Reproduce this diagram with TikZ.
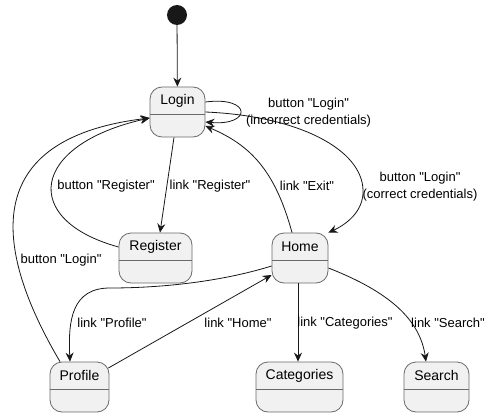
\documentclass[tikz,border=0pt]{standalone}
\usepackage{fontspec}
\setmainfont{Liberation Sans}[Ligatures=TeXOff]
\usetikzlibrary{arrows.meta}
\definecolor{statefill}{HTML}{F1F1F1}
\definecolor{stateline}{HTML}{6A6A6A}
\definecolor{edgecol}{HTML}{181818}
\tikzset{
  st/.style={draw=stateline, fill=statefill, rounded corners=12pt, line width=0.8pt,
    minimum height=50pt, inner sep=0pt,
    path picture={\draw[stateline,line width=0.8pt]
      ([yshift=-27pt]path picture bounding box.north west) --
      ([yshift=-27pt]path picture bounding box.north east);}},
  stname/.style={font=\fontsize{14}{16}\selectfont, inner sep=0pt},
  tr/.style={draw=edgecol, line width=0.8pt, -{Stealth[length=9pt,width=8pt,inset=3pt]}},
  lbl/.style={font=\fontsize{13}{17}\selectfont, align=center, inner sep=0pt, text=black},
}
\begin{document}
\begin{tikzpicture}[x=1pt,y=-1pt]
\useasboundingbox[fill=white] (0,0) rectangle (492,417);

% states
\node[circle, fill=edgecol, minimum size=20pt, inner sep=0pt] (start) at (177,15) {};
\node[st, minimum width=55pt] (login) at (177.5,112) {};
\node[stname] (loginT) at ([yshift=-14pt]login.north) {Login};
\node[st, minimum width=73pt] (register) at (155.5,258) {};
\node[stname] (registerT) at ([yshift=-14pt]register.north) {Register};
\node[st, minimum width=56pt] (home) at (300,258) {};
\node[stname] (homeT) at ([yshift=-14pt]home.north) {Home};
\node[st, minimum width=59pt] (profile) at (79.5,387) {};
\node[stname] (profileT) at ([yshift=-14pt]profile.north) {Profile};
\node[st, minimum width=87pt] (categories) at (299.5,387) {};
\node[stname] (categoriesT) at ([yshift=-14pt]categories.north) {Categories};
\node[st, minimum width=65pt] (search) at (436.5,387) {};
\node[stname] (searchT) at ([yshift=-14pt]search.north) {Search};

% transitions
\draw[tr] (start) -- (login);
\draw[tr] ([yshift=10pt]login.east) .. controls (252,96) and (252,126) .. ([yshift=-10pt]login.east);
\draw[tr] (login.east) .. controls (300,116) and (362,150) .. (363,190)
  .. controls (364,212) and (345,225) .. (home.north east);
\draw[tr] ([xshift=-3.5pt]login.south) -- ([xshift=4.5pt]register.north);
\draw[tr] ([yshift=11pt]register.west) .. controls (20,220) and (30,145) .. ([yshift=-6pt]login.west);
\draw[tr] ([xshift=-19.5pt]profile.north) .. controls (0,260) and (-30,140) .. ([yshift=-6pt]login.west);
\draw[tr] ([xshift=-8pt]home.north) .. controls (275,170) and (250,145) .. ([yshift=-14pt]login.east);
\draw[tr] ([yshift=-8pt]home.west) .. controls (220,282) and (160,288) .. (110,288)
  .. controls (72,288) and (68,320) .. ([xshift=-9.5pt]profile.north);
\draw[tr] ([shift={(-1pt,19pt)}]profile.east) -- ([yshift=-17pt]home.west);
\draw[tr] ([xshift=-2pt]home.south) -- ([xshift=-1.5pt]categories.north);
\draw[tr] ([yshift=-10pt]home.east) .. controls (390,292) and (420,320) .. ([xshift=-10.5pt]search.north);

% labels
\node[lbl] (lIncorrect) at (308.5,112.5) {button "Login"\\(incorrect credentials)};
\node[lbl] (lCorrect) at (420,186.5) {button "Login"\\(correct credentials)};
\node[lbl] (lRegBtn) at (106,186) {button "Register"};
\node[lbl] (lRegLink) at (210,186) {link "Register"};
\node[lbl] (lExit) at (307,186) {link "Exit"};
\node[lbl] (lLoginBtn) at (61,260) {button "Login"};
\node[lbl] (lProfile) at (112,323) {link "Profile"};
\node[lbl] (lHome) at (238,323) {link "Home"};
\node[lbl] (lCategories) at (345,323) {link "Categories"};
\node[lbl] (lSearch) at (448,323) {link "Search"};
\end{tikzpicture}
\end{document}
